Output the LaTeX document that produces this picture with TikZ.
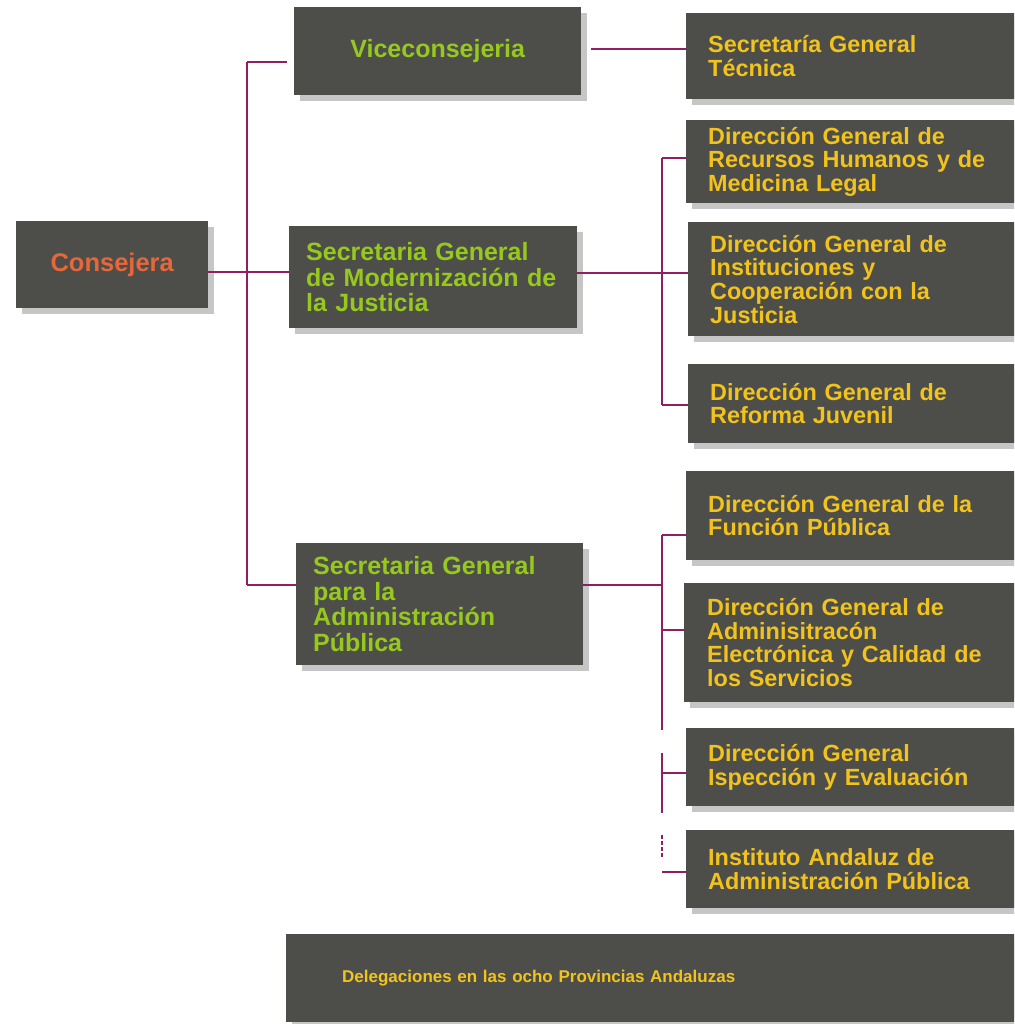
\documentclass[tikz,border=0pt]{standalone}
\usepackage{fontspec}
\setmainfont{Liberation Sans}
\usetikzlibrary{shadows}

\definecolor{boxgray}{HTML}{4D4E4A}
\definecolor{shadowgray}{HTML}{C6C6C6}
\definecolor{linkred}{HTML}{8F1F5F}
\definecolor{txtorange}{HTML}{E8673A}
\definecolor{txtgreen}{HTML}{96C81E}
\definecolor{txtyellow}{HTML}{F2C31C}

\begin{document}
\begin{tikzpicture}[x=1pt,y=-1pt,
  box/.style={fill=boxgray, draw=none, anchor=north west, inner ysep=0pt,
    drop shadow={shadow xshift=6pt, shadow yshift=-6pt, fill=shadowgray, opacity=1}},
  headbox/.style={box, text=txtorange, align=center, inner xsep=0pt,
    font=\fontsize{25.5}{25.5}\selectfont\bfseries},
  secbox/.style={box, text=txtgreen, align=left, inner xsep=17pt,
    font=\fontsize{25}{25.5}\selectfont\bfseries},
  vicebox/.style={box, text=txtgreen, align=center, inner xsep=0pt,
    font=\fontsize{25}{25.5}\selectfont\bfseries},
  unitbox/.style={box, text=txtyellow, align=left, inner xsep=22pt, text width=294pt,
    font=\fontsize{23.4}{23.6}\selectfont\bfseries},
  delbox/.style={box, text=txtyellow, align=left, inner xsep=56pt, text width=626pt,
    font=\fontsize{17}{19}\selectfont\bfseries},
  link/.style={draw=linkred, line width=2.2pt}
]
\useasboundingbox (0,0) rectangle (1014,1024);
\fill[white] (0,0) rectangle (1014,1024);
\clip (0,0) rectangle (1014,1024);

% top level
\node[headbox, minimum width=192pt, minimum height=87pt] (cons) at (16,221) {Consejera};

% second level
\node[vicebox, minimum width=287pt, minimum height=88pt] (vice) at (294,7) {Viceconsejeria};
\node[secbox, text width=254pt, minimum height=102pt] (sgmj) at (289,226)
  {Secretaria General\\de Modernización de\\la Justicia};
\node[secbox, text width=253pt, minimum height=122pt] (sgap) at (296,543)
  {Secretaria General\\para la\\Administración\\Pública};

% third level
\node[unitbox, minimum height=86pt] (sgt) at (686,13) {Secretaría General\\Técnica};
\node[unitbox, minimum height=83pt] (dgrh) at (686,120)
  {Dirección General de\\Recursos Humanos y de\\Medicina Legal};
\node[unitbox, minimum height=114pt] (dgic) at (688,222)
  {Dirección General de\\Instituciones y\\Cooperación con la\\Justicia};
\node[unitbox, minimum height=79pt] (dgrj) at (688,364)
  {Dirección General de\\Reforma Juvenil};
\node[unitbox, minimum height=89pt] (dgfp) at (686,471)
  {Dirección General de la\\Función Pública};
\node[unitbox, inner xsep=23pt, minimum height=119pt] (dgae) at (684,583)
  {Dirección General de\\Adminisitracón\\Electrónica y Calidad de\\los Servicios};
\node[unitbox, minimum height=78pt] (dgie) at (686,728)
  {Dirección General\\Ispección y Evaluación};
\node[unitbox, minimum height=78pt] (iaap) at (686,830)
  {Instituto Andaluz de\\Administración Pública};

% provincial delegations
\node[delbox, minimum height=88pt] (deleg) at (286,934)
  {Delegaciones en las ocho Provincias Andaluzas};

% trunk from the head
\coordinate (t0) at (247,62);
\coordinate (t1) at (247,585);
\coordinate (j0) at (247,272);
\coordinate (vin) at (287,62);
\draw[link] (t0) -- (t1);
\draw[link] (t0) -- (vin);
\draw[link] (cons.east |- j0) -- (sgmj.west |- j0);
\draw[link] (t1) -- (sgap.west |- t1);

% Viceconsejeria to Secretaria General Tecnica
\coordinate (v0) at (591,49);
\draw[link] (v0) -- (sgt.west |- v0);

% bus under the Secretaria General de Modernizacion
\coordinate (b2t) at (662,158);
\coordinate (b2m) at (662,273);
\coordinate (b2b) at (662,405);
\draw[link] (b2t) -- (b2b);
\draw[link] (b2t) -- (dgrh.west |- b2t);
\draw[link] (sgmj.east |- b2m) -- (dgic.west |- b2m);
\draw[link] (b2b) -- (dgrj.west |- b2b);

% bus under the Secretaria General para la Administracion Publica
\coordinate (b3t) at (662,535);
\coordinate (b3m) at (662,585);
\coordinate (b3a) at (662,630);
\coordinate (b3e) at (662,730);
\coordinate (b3c) at (662,753);
\coordinate (b3i) at (662,773);
\coordinate (b3d) at (662,813);
\coordinate (b3f) at (662,835);
\coordinate (b3g) at (662,857);
\coordinate (b3h) at (662,872);
\draw[link] (b3t) -- (b3e);
\draw[link] (b3t) -- (dgfp.west |- b3t);
\draw[link] (sgap.east |- b3m) -- (b3m);
\draw[link] (b3a) -- (dgae.west |- b3a);
\draw[link] (b3c) -- (b3d);
\draw[link] (b3i) -- (dgie.west |- b3i);
\draw[link, dash pattern=on 4pt off 2pt] (b3f) -- (b3g);
\draw[link] (b3h) -- (iaap.west |- b3h);
\end{tikzpicture}
\end{document}
